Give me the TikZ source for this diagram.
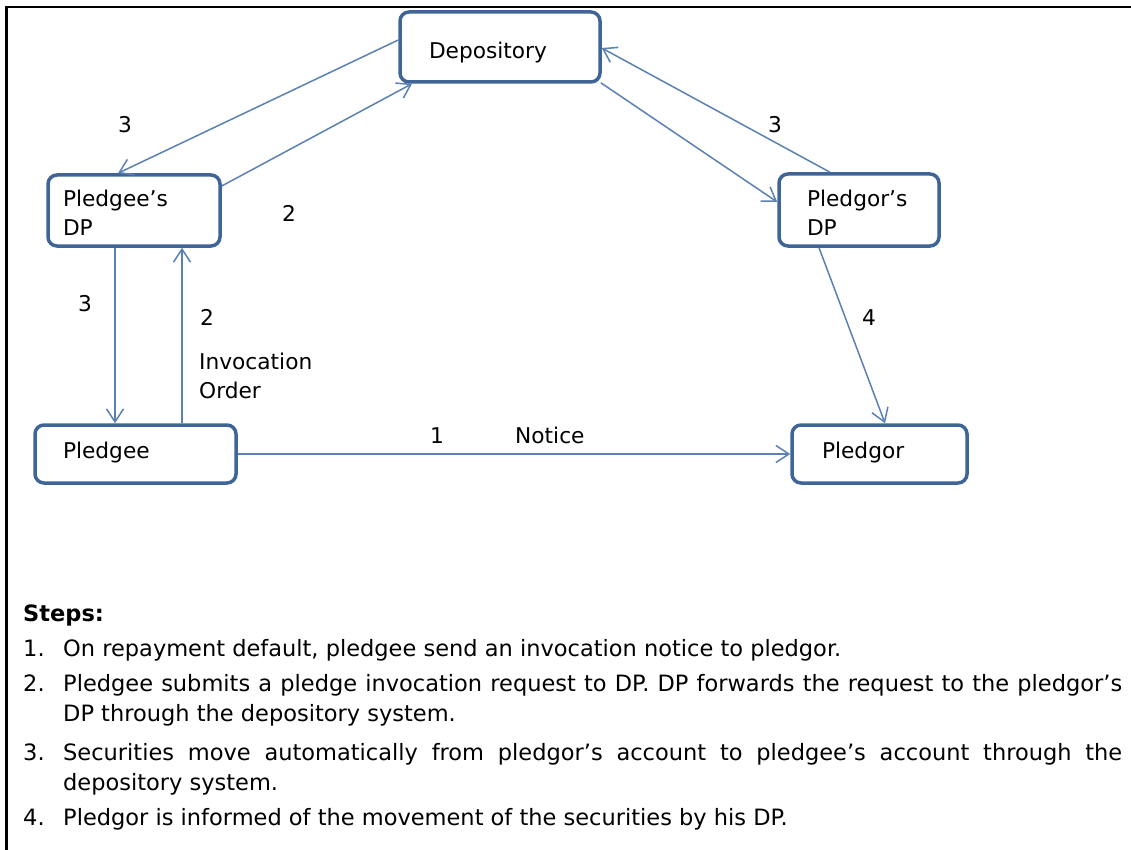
\documentclass[tikz,border=0pt]{standalone}
\usepackage{fontspec}
\setmainfont{DejaVu Sans}
\usetikzlibrary{arrows.meta,calc}
\definecolor{boxblue}{HTML}{3E6596}
\definecolor{arrblue}{HTML}{5A80B4}
\begin{document}
\begin{tikzpicture}[x=1pt,y=-1pt,
  every node/.style={inner sep=0pt},
  box/.style={draw=boxblue, line width=3.5pt, rounded corners=9pt, fill=white, align=left,
    font=\fontsize{21.7}{29}\selectfont},
  arr/.style={draw=arrblue, line width=1.5pt, -{Straight Barb[length=13pt,width=17pt]}},
  lbl/.style={anchor=base west, font=\fontsize{21.7}{29}\selectfont},
  steptext/.style={anchor=base west, font=\fontsize{22.5}{30}\selectfont},
  frame/.style={line width=2.5pt, black}
]
\useasboundingbox (0,0) rectangle (1131,850);
\draw[frame] (6.3,850) -- (6.3,6.8) -- (1131,6.8);

% boxes
\node[box, minimum width=200pt, minimum height=70pt, text width=142pt,
      text height=22.6pt, text depth=0pt] (dep) at (500,47) {Depository};
\node[box, minimum width=172pt, minimum height=71pt, text width=142pt,
      text height=16pt, text depth=23pt] (pdp) at (134,210.5) {Pledgee’s\\DP};
\node[box, minimum width=160pt, minimum height=72pt, text width=104pt,
      text height=16pt, text depth=22.6pt] (rdp) at (859,210) {Pledgor’s\\DP};
\node[box, minimum width=201pt, minimum height=58pt, text width=145pt,
      text height=15pt, text depth=6.4pt] (pee) at (135.5,454) {Pledgee};
\node[box, minimum width=175pt, minimum height=58pt, text width=115pt,
      text height=15pt, text depth=6.4pt] (por) at (879.5,454) {Pledgor};

% connectors
\draw[arr] ($(dep.west)+(0,-7)$) -- ($(pdp.north)+(-16,0)$);
\draw[arr] ($(pdp.east)+(0,-24.5)$) -- ($(dep.south)+(-88,0)$);
\draw[arr] ($(dep.south east)+(-1,-1)$) -- ($(rdp.west)+(0,-8)$);
\draw[arr] ($(rdp.north)+(-29,0)$) -- ($(dep.east)+(0,1)$);
\draw[arr] ($(pdp.south)+(-19,0)$) -- ($(pee.north)+(-20.5,0)$);
\draw[arr] ($(pee.north)+(46.5,0)$) -- ($(pdp.south)+(48,0)$);
\draw[arr] ($(rdp.south)+(-40,0)$) -- ($(por.north)+(5.5,0)$);
\draw[arr] (pee.east) -- (por.west);

% connector labels
\node[lbl] (l3a) at (118,132.7) {3};
\node[lbl] (l2a) at (282,221.7) {2};
\node[lbl] (l3b) at (768,133) {3};
\node[lbl] (l3c) at (78,311) {3};
\node[lbl] (l2b) at (200,325) {2};
\node[lbl, align=left, text width=140pt] (inv) at (199,369.3) {Invocation\\Order};
\node[lbl] (l4) at (862,325) {4};
\node[lbl] (l1) at (430,443) {1};
\node[lbl] (notice) at (515,443) {Notice};

% steps
\node[steptext, font=\fontsize{22.5}{30}\selectfont\bfseries] (steps) at (23,621.7) {Steps:};
\node[steptext] (s1) at (23,656.7) {\makebox[40pt][l]{1.}On repayment default, pledgee send an invocation notice to pledgor.};
\node[steptext] (s2) at (23,691.7) {\makebox[40pt][l]{2.}\parbox[t]{1059pt}{\makebox[1059pt][s]{Pledgee submits a pledge invocation request to DP. DP forwards the request to the pledgor’s}\\DP through the depository system.}};
\node[steptext] (s3) at (23,760) {\makebox[40pt][l]{3.}\parbox[t]{1059pt}{\makebox[1059pt][s]{Securities move automatically from pledgor’s account to pledgee’s account through the}\\depository system.}};
\node[steptext] (s4) at (23,825) {\makebox[40pt][l]{4.}Pledgor is informed of the movement of the securities by his DP.};
\end{tikzpicture}
\end{document}
